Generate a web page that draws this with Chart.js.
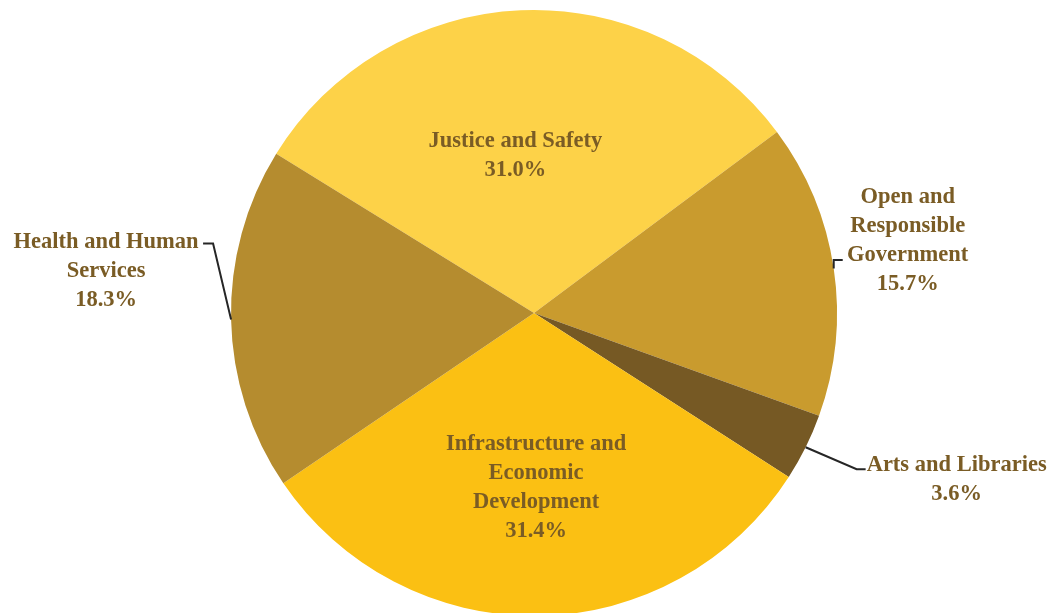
<!DOCTYPE html>
<html>
<head>
<meta charset="utf-8">
<script src="https://cdn.jsdelivr.net/npm/chart.js@4/dist/chart.umd.min.js"></script>
<style>
  html, body { margin: 0; padding: 0; background: #ffffff; overflow: hidden; }
  #wrap { width: 1053px; height: 620px; }
</style>
</head>
<body>
<div id="wrap"><canvas id="budget" width="1053" height="620"></canvas></div>
<script>
// Budget share by program area (percent of total)
const categories = [
  ['Justice and Safety'],
  ['Open and', 'Responsible', 'Government'],
  ['Arts and Libraries'],
  ['Infrastructure and', 'Economic', 'Development'],
  ['Health and Human', 'Services']
];
const shares = [31.0, 15.7, 3.6, 31.4, 18.3];
const sliceColors = ['#FDD248', '#C99B2E', '#765924', '#FBC013', '#B58C2F'];

// Label placement per slice: inside labels sit along the slice's middle ray,
// outside labels hang off a leader line drawn from the rim.
const labelPlacement = [
  { inside: true, frac: 0.50, dx: -12, dy: -7 },
  { inside: false, elbow: [0, -8.5], run: 9, text: [65, -64] },
  { inside: false, elbow: [51, 22], run: 9, text: [91, -6] },
  { inside: true, frac: 0.57, dx: 0, dy: 0 },
  { inside: false, elbow: [-18, -76], run: -10, text: [-97, -3] }
];

const LABEL_FONT = 'bold 22.5px "Liberation Serif", "DejaVu Serif", serif';
const LABEL_COLOR = '#7A5C25';
const LINE_GAP = 29;
const TEXT_NUDGE = 1.5;

const sliceLabels = {
  id: 'sliceLabels',
  afterDatasetsDraw(chart) {
    const ctx = chart.ctx;
    const meta = chart.getDatasetMeta(0);
    ctx.save();
    ctx.font = LABEL_FONT;
    ctx.fillStyle = LABEL_COLOR;
    ctx.textAlign = 'center';
    ctx.textBaseline = 'middle';
    meta.data.forEach((arc, i) => {
      const p = arc.getProps(['x', 'y', 'startAngle', 'endAngle', 'outerRadius'], true);
      const mid = (p.startAngle + p.endAngle) / 2;
      const cos = Math.cos(mid), sin = Math.sin(mid);
      const place = labelPlacement[i];
      const lines = categories[i].concat([shares[i].toFixed(1) + '%']);
      let tx, firstY;
      if (place.inside) {
        tx = p.x + cos * p.outerRadius * place.frac + place.dx;
        const cy = p.y + sin * p.outerRadius * place.frac + place.dy;
        firstY = cy - (lines.length - 1) * LINE_GAP / 2;
      } else {
        const ex = p.x + cos * p.outerRadius;
        const ey = p.y + sin * p.outerRadius;
        const bx = ex + place.elbow[0];
        const by = ey + place.elbow[1];
        const lx = bx + place.run;
        ctx.beginPath();
        ctx.moveTo(ex, ey);
        ctx.lineTo(bx, by);
        ctx.lineTo(lx, by);
        ctx.strokeStyle = '#262626';
        ctx.lineWidth = 2;
        ctx.stroke();
        tx = lx + place.text[0];
        firstY = by + place.text[1];
      }
      lines.forEach((line, k) => ctx.fillText(line, tx, firstY + TEXT_NUDGE + k * LINE_GAP));
    });
    ctx.restore();
  }
};

new Chart(document.getElementById('budget'), {
  type: 'pie',
  data: {
    labels: categories.map(c => c.join(' ')),
    datasets: [{
      data: shares,
      backgroundColor: sliceColors,
      borderWidth: 0
    }]
  },
  options: {
    responsive: false,
    animation: false,
    rotation: -58.3,
    layout: { padding: { top: 10, bottom: 4, left: 15, right: 0 } },
    plugins: {
      legend: { display: false },
      tooltip: { enabled: false }
    }
  },
  plugins: [sliceLabels]
});
</script>
</body>
</html>
